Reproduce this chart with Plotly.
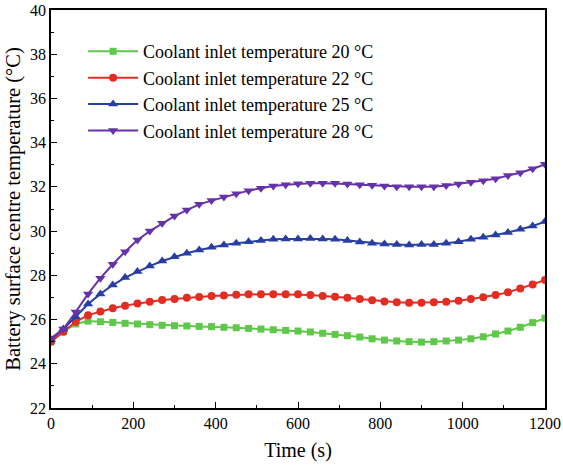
import plotly.graph_objects as go

time_s = [i * 30 for i in range(41)]

t20 = [25.0, 25.45, 25.8, 25.93, 25.9, 25.87, 25.83, 25.8, 25.77, 25.74, 25.72, 25.71, 25.69, 25.68, 25.65, 25.63, 25.6, 25.57, 25.54, 25.51, 25.48,
       25.44, 25.38, 25.33, 25.27, 25.21, 25.13, 25.07, 25.03, 25.0, 24.98, 25.0, 25.03, 25.07, 25.13, 25.22, 25.35, 25.48, 25.65, 25.86, 26.06]
t22 = [25.0, 25.45, 25.9, 26.2, 26.36, 26.51, 26.63, 26.73, 26.81, 26.88, 26.93, 26.99, 27.02, 27.06, 27.09, 27.12, 27.14, 27.15, 27.15, 27.14, 27.14,
       27.11, 27.06, 27.03, 26.99, 26.93, 26.87, 26.82, 26.78, 26.76, 26.76, 26.78, 26.81, 26.85, 26.93, 27.01, 27.11, 27.23, 27.40, 27.59, 27.79]
t25 = [25.1, 25.57, 26.13, 26.7, 27.16, 27.56, 27.9, 28.17, 28.42, 28.65, 28.84, 29.0, 29.15, 29.27, 29.37, 29.45, 29.52, 29.58, 29.63, 29.64, 29.64,
       29.67, 29.64, 29.63, 29.57, 29.51, 29.45, 29.42, 29.39, 29.37, 29.39, 29.40, 29.45, 29.52, 29.63, 29.72, 29.82, 29.94, 30.08, 30.23, 30.43]
t28 = [25.15, 25.57, 26.34, 27.16, 27.87, 28.5, 29.07, 29.6, 30.0, 30.35, 30.68, 30.95, 31.21, 31.38, 31.54, 31.69, 31.83, 31.94, 32.04, 32.1, 32.14,
       32.16, 32.16, 32.16, 32.13, 32.10, 32.07, 32.04, 32.01, 32.01, 32.01, 32.01, 32.06, 32.13, 32.21, 32.28, 32.37, 32.51, 32.64, 32.82, 33.02]

names = ["Coolant inlet temperature 20 °C", "Coolant inlet temperature 22 °C",
         "Coolant inlet temperature 25 °C", "Coolant inlet temperature 28 °C"]
series = [t20, t22, t25, t28]
colors = ["rgb(95,200,75)", "rgb(226,45,35)", "rgb(40,62,165)", "rgb(102,50,170)"]
symbols = ["square", "circle", "triangle-up", "triangle-down"]
sizes = [7, 8, 9, 9]

fig = go.Figure()
for n, ys, c, s, sz in zip(names, series, colors, symbols, sizes):
    fig.add_trace(go.Scatter(x=time_s, y=ys, name=n, mode="lines+markers",
                             line=dict(color=c, width=2),
                             marker=dict(symbol=s, size=sz, color=c)))

font_family = "Liberation Serif"
axis_common = dict(showgrid=False, zeroline=False, showline=True, linecolor="black",
                   linewidth=1.5, mirror=True, ticks="inside", ticklen=6, tickwidth=1.2,
                   tickcolor="black", automargin=False,
                   tickfont=dict(family=font_family, size=16, color="black"))

fig.update_xaxes(range=[0, 1200], dtick=200, tick0=0,
                 minor=dict(dtick=100, ticks="inside", ticklen=3, tickcolor="black"),
                 title=dict(text="Time (s)", font=dict(family=font_family, size=20, color="black"), standoff=12),
                 **axis_common)
fig.update_yaxes(range=[22, 40], dtick=2, tick0=22,
                 minor=dict(dtick=1, ticks="inside", ticklen=3, tickcolor="black"),
                 title=dict(text="Battery surface centre temperature (°C)", font=dict(family=font_family, size=20.5, color="black"), standoff=4),
                 **axis_common)

fig.update_layout(
    width=563, height=468,
    margin=dict(l=51, r=18, t=10, b=60),
    plot_bgcolor="white", paper_bgcolor="white",
    legend=dict(x=0.065, y=0.942, xanchor="left", yanchor="top",
                bgcolor="rgba(0,0,0,0)", font=dict(family=font_family, size=18, color="black"),
                tracegroupgap=0, itemwidth=50),
)

fig.write_html("out.html")
